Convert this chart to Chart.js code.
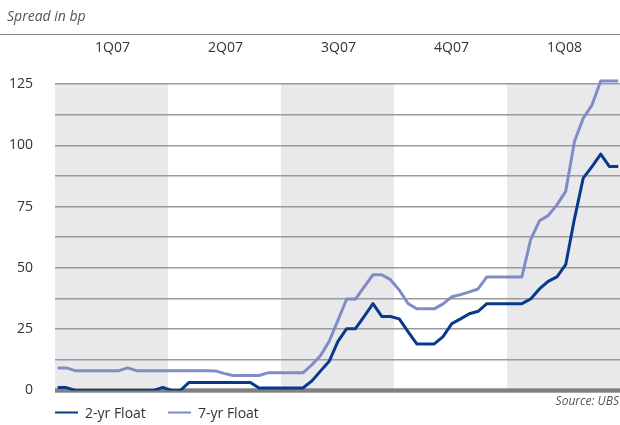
<!DOCTYPE html>
<html><head><meta charset="utf-8">
<script src="https://cdn.jsdelivr.net/npm/chart.js@4"></script>
<style>html,body{margin:0;padding:0;background:#fff;}#wrap{width:620px;height:425px;position:relative;}</style>
</head><body><div id="wrap"><canvas id="c" width="620" height="425"></canvas></div>
<script>
const titleText = 'Spread in bp';
const sourceText = 'Source: UBS';
const quarterLabels = ['1Q07','2Q07','3Q07','4Q07','1Q08'];
const seriesNames = ['2-yr Float','7-yr Float'];
const yTickValues = [0,25,50,75,100,125];
const weeks = Array.from({length:65},(_,i)=>i);
const twoYr = [1.2,1.2,0,0,0,0,0,0,0,0,0,0,1.3,0,0,3.3,3.3,3.3,3.3,3.3,3.3,3.3,3.3,1,1,1,1,1,1,3.8,7.9,11.9,20,25.2,25.2,30.2,35.4,30.2,30.2,29.2,24,19,19,19,22,27.3,29.2,31.3,32.3,35.4,35.4,35.4,35.4,35.4,37.3,41.4,44.5,46.3,51.3,70,86.6,91.3,96.4,91.3,91.3];
const sevenYr = [9.2,9.2,8.1,8.1,8.1,8.1,8.1,8.1,9.2,8.1,8.1,8.1,8.1,8.1,8.1,8.1,8.1,8.1,8.0,7,6.1,6.1,6.1,6.1,7.2,7.2,7.2,7.2,7.2,10.4,14.2,20.1,28.6,37.3,37.3,42.3,47.2,47.2,45.2,41,35.5,33.3,33.3,33.3,35.3,38.2,39.1,40.2,41.4,46.3,46.3,46.3,46.3,46.3,61.5,69.2,71.3,75.7,81.2,101.5,111,116.4,126.2,126.2,126.2];

const colors = ['#083a8c','#7f8cc6'];
const FONT = '"Open Sans", "Noto Sans", sans-serif';

const decor = {
  id:'decor',
  beforeDraw(chart){
    const {ctx, chartArea:a, scales:{y}} = chart;
    const top = y.getPixelForValue(125), bot = y.getPixelForValue(0);
    const w = a.width/5;
    ctx.save();
    ctx.fillStyle = '#e9e9ec';
    [0,2,4].forEach(k=>ctx.fillRect(a.left+k*w, top, w, bot-top));
    ctx.fillStyle = '#555';
    ctx.font = 'italic 14px ' + FONT;
    ctx.textBaseline = 'middle';
    ctx.textAlign = 'left';
    ctx.fillText(titleText, 7, 17);
    ctx.fillStyle = '#8a8a8a';
    ctx.fillRect(0, 34, chart.width, 1);
    ctx.fillStyle = '#333';
    ctx.font = '14px ' + FONT;
    ctx.textAlign = 'center';
    quarterLabels.forEach((q,i)=>ctx.fillText(q, a.left + (i+0.5)*w + 1, 48));
    ctx.restore();
  },
  beforeDatasetsDraw(chart){
    const {ctx, chartArea:a, scales:{y}} = chart;
    const y0 = y.getPixelForValue(0);
    ctx.save();
    ctx.fillStyle = '#808080';
    ctx.fillRect(a.left, y0-2.2, a.width, 4.4);
    ctx.restore();
  },
  afterDraw(chart){
    const {ctx} = chart;
    ctx.save();
    ctx.font = '14px ' + FONT;
    ctx.textBaseline = 'middle';
    ctx.textAlign = 'left';
    const lx = [55,168];
    chart.data.datasets.forEach((ds,i)=>{
      ctx.strokeStyle = ds.borderColor;
      ctx.lineWidth = 2;
      ctx.beginPath(); ctx.moveTo(lx[i], 412.5); ctx.lineTo(lx[i]+23, 412.5); ctx.stroke();
      ctx.fillStyle = '#333';
      ctx.fillText(ds.label, lx[i]+30, 414);
    });
    ctx.fillStyle = '#555';
    ctx.font = 'italic 12px ' + FONT;
    ctx.textAlign = 'right';
    ctx.fillText(sourceText, 619, 402);
    ctx.restore();
  }
};

new Chart(document.getElementById('c'), {
  type:'line',
  data:{
    datasets:[
      {label:seriesNames[0], data:weeks.map((w,i)=>({x:w,y:twoYr[i]})), borderColor:colors[0], borderWidth:3, pointRadius:0, tension:0, borderJoinStyle:'round'},
      {label:seriesNames[1], data:weeks.map((w,i)=>({x:w,y:sevenYr[i]})), borderColor:colors[1], borderWidth:3, pointRadius:0, tension:0, borderJoinStyle:'round'}
    ]
  },
  options:{
    responsive:false, animation:false, devicePixelRatio:1,
    layout:{padding:{top:71.7, bottom:34.5, left:0, right:0}},
    plugins:{legend:{display:false}, tooltip:{enabled:false}},
    scales:{
      x:{type:'linear', min:-0.3, max:64.2, display:false},
      y:{
        min:0, max:130,
        afterBuildTicks(s){ s.ticks = Array.from({length:11},(_,i)=>({value:i*12.5})); },
        afterFit(s){ s.width = 55; },
        border:{display:false},
        grid:{drawTicks:false, color:(c)=> c.tick && c.tick.value===0 ? 'rgba(0,0,0,0)' : '#9a9a9a', lineWidth:1.5, borderDash:[1.5,6.8]},
        ticks:{padding:22, color:'#333', font:{family:FONT, size:14},
          callback:(v)=> yTickValues.includes(v) ? String(v) : ''}
      }
    }
  },
  plugins:[decor]
});
</script></body></html>
